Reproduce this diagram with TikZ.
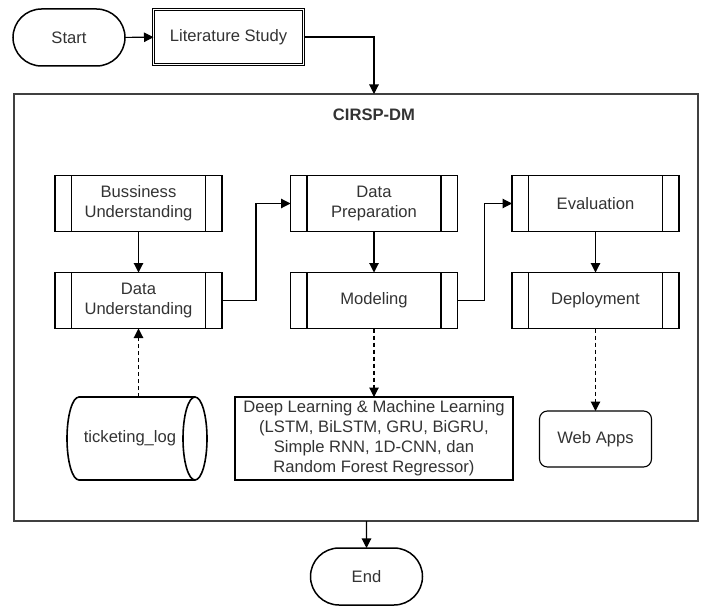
\documentclass[tikz,border=0pt]{standalone}
\usepackage{fontspec}
\setmainfont{Liberation Sans}
\usetikzlibrary{arrows.meta,shapes.misc,calc}
\begin{document}
\begin{tikzpicture}[x=1pt,y=-1pt,
  font=\fontsize{16.6}{20}\selectfont,
  every node/.style={inner sep=0pt, outer sep=0pt, text=black!80},
  arr/.style={-{Triangle[length=9.5pt,width=9.5pt]}, line width=1.1pt},
  darr/.style={arr, dash pattern=on 4pt off 3pt},
  proc/.style={draw, line width=1.1pt, minimum width=167pt, minimum height=56pt, align=center,
    path picture={
      \draw[line width=1.1pt] ([xshift=16.5pt]path picture bounding box.north west) -- ([xshift=16.5pt]path picture bounding box.south west);
      \draw[line width=1.1pt] ([xshift=-16.5pt]path picture bounding box.north east) -- ([xshift=-16.5pt]path picture bounding box.south east);
    }},
  term/.style={draw, rounded rectangle, line width=1.5pt, minimum width=112pt, minimum height=57pt}
]
\useasboundingbox (0,0) rectangle (709,607);

% frame
\node[draw=black!75, line width=1.6pt, minimum width=684pt, minimum height=427pt] (frame) at (356,307.5) {};
\node[font=\fontsize{16.6}{20}\selectfont\bfseries] (title) at (374,115) {CIRSP-DM};

% start / literature
\node[term] (start) at (69,37.5) {Start};
\node[draw, double, double distance=1.1pt, line width=1.2pt, minimum width=150pt, minimum height=55pt] (lit) at (228.5,37) {Literature Study};
\coordinate (fin) at (374,94);

% process boxes
\node[proc] (bu) at (138.5,203.5) {Bussiness\\Understanding};
\node[proc] (du) at (138.5,300.5) {Data\\Understanding};
\node[proc] (dp) at (374,203.5) {Data\\Preparation};
\node[proc] (mo) at (374,300.5) {Modeling};
\node[proc] (ev) at (595.5,203.5) {Evaluation};
\node[proc] (de) at (595.5,300.5) {Deployment};

% cylinder
\draw[line width=1.6pt] (195,397) -- (79,397) arc[start angle=-90, end angle=-270, x radius=12, y radius=41.5] -- (195,480);
\draw[line width=1.6pt] (195,438.5) ellipse[x radius=12, y radius=41.5];
\node (tl) at (130,438.5) {ticketing\_log};
\coordinate (tltop) at (138.5,397);

% outputs
\node[draw, line width=1.1pt, minimum width=278pt, minimum height=83pt, align=center] (dl) at (374,438.5)
  {Deep Learning \& Machine Learning\\(LSTM, BiLSTM, GRU, BiGRU,\\Simple RNN, 1D-CNN, dan\\Random Forest Regressor)};
\node[draw, line width=1.1pt, rounded corners=8pt, minimum width=112pt, minimum height=56pt] (wa) at (595.5,439) {Web Apps};

% end
\node[term] (end) at (366.5,576.5) {End};
\coordinate (fbot) at (366.5,521);

% connectors
\draw[arr] (start) -- (lit);
\draw[arr] (lit.east) -| (fin);
\draw[arr] (bu) -- (du);
\draw[arr] (du.east) -- ++(34,0) |- (dp.west);
\draw[arr] (dp) -- (mo);
\draw[arr] (mo.east) -- ++(27,0) |- (ev.west);
\draw[arr] (ev) -- (de);
\draw[darr] (tltop) -- (du.south);
\draw[darr] (mo.south) -- (dl.north);
\draw[darr] (de.south) -- (wa.north);
\draw[arr] (fbot) -- (end);
\end{tikzpicture}
\end{document}
